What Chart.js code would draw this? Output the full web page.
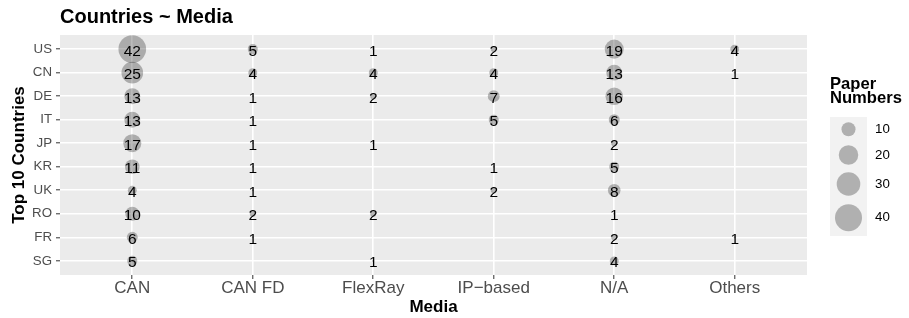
<!DOCTYPE html>
<html>
<head>
<meta charset="utf-8">
<script src="https://cdn.jsdelivr.net/npm/chart.js@4"></script>
<style>
  body { margin: 0; background: #fff; }
  #wrap { width: 909px; height: 318px; position: relative; }
</style>
</head>
<body>
<div id="wrap"><canvas id="chart"></canvas></div>
<script>
// ===== DATA =====
const media     = ['CAN', 'CAN FD', 'FlexRay', 'IP\u2212based', 'N/A', 'Others'];
const countries = ['US', 'CN', 'DE', 'IT', 'JP', 'KR', 'UK', 'RO', 'FR', 'SG'];
// one row per country, one column per medium (null = no paper)
const paperCounts = [
  [42, 5,    1,    2,    19, 4],
  [25, 4,    4,    4,    13, 1],
  [13, 1,    2,    7,    16, null],
  [13, 1,    null, 5,    6,  null],
  [17, 1,    1,    null, 2,  null],
  [11, 1,    null, 1,    5,  null],
  [4,  1,    null, 2,    8,  null],
  [10, 2,    2,    null, 1,  null],
  [6,  1,    null, null, 2,  1],
  [5,  null, 1,    null, 4,  null],
];
const legendValues = [10, 20, 30, 40];

const FONT = "'Liberation Sans', Arial, Helvetica, sans-serif";
const BUBBLE = 'rgba(0,0,0,0.27)';

// ===== bubble points =====
const points = [];
paperCounts.forEach((row, yi) => {
  row.forEach((v, xi) => {
    if (v !== null) points.push({ x: xi, y: yi, v: v });
  });
});

// size scale (area), like ggplot scale_size: diameter 2..~27.7 px
const allVals = points.map(p => p.v);
const vMin = Math.min(...allVals);
const vMax = Math.max(...allVals);
function bubbleRadius(v) {
  const t = Math.sqrt((v - vMin) / (vMax - vMin));
  return (2 + 25.7 * t) / 2;
}

// ===== PLUGINS =====
const panelBg = {
  id: 'panelBg',
  beforeDraw(chart) {
    const { ctx, chartArea: a } = chart;
    ctx.save();
    ctx.fillStyle = '#EBEBEB';
    ctx.fillRect(a.left, a.top, a.right - a.left, a.bottom - a.top);
    ctx.restore();
  },
};

const bubbleText = {
  id: 'bubbleText',
  afterDatasetsDraw(chart) {
    const { ctx } = chart;
    const meta = chart.getDatasetMeta(0);
    ctx.save();
    ctx.fillStyle = '#000';
    ctx.font = `15.5px ${FONT}`;
    ctx.textAlign = 'center';
    ctx.textBaseline = 'alphabetic';
    meta.data.forEach((el, i) => {
      const p = chart.data.datasets[0].data[i];
      ctx.fillText(String(p.v), el.x, el.y + 0.36 * 15.5 + 1);
    });
    ctx.restore();
  },
};

const extras = {
  id: 'extras',
  afterDraw(chart) {
    const { ctx } = chart;
    ctx.save();
    // plot title
    ctx.fillStyle = '#000';
    ctx.font = `bold 20px ${FONT}`;
    ctx.textAlign = 'left';
    ctx.textBaseline = 'alphabetic';
    ctx.fillText('Countries ~ Media', chart.chartArea.left, 22.7);

    // size legend
    ctx.font = `bold 16.6px ${FONT}`;
    ctx.fillText('Paper', 830, 89.3);
    ctx.fillText('Numbers', 830, 103.3);

    ctx.fillStyle = '#F2F2F2';
    ctx.fillRect(830, 117, 37, 119);

    const keyY = [129.3, 155, 184, 217.7];
    legendValues.forEach((v, i) => {
      ctx.fillStyle = BUBBLE;
      ctx.beginPath();
      ctx.arc(848.5, keyY[i], bubbleRadius(v), 0, Math.PI * 2);
      ctx.fill();
      ctx.fillStyle = '#000';
      ctx.font = `13.3px ${FONT}`;
      ctx.textBaseline = 'middle';
      ctx.fillText(String(v), 875, keyY[i]);
    });
    ctx.restore();
  },
};

// ===== CHART =====
const ctx = document.getElementById('chart').getContext('2d');

new Chart(ctx, {
  type: 'bubble',
  data: {
    datasets: [{
      data: points,
      backgroundColor: BUBBLE,
      borderWidth: 0,
      radius: c => bubbleRadius(c.raw.v),
      hoverRadius: 0,
    }],
  },
  options: {
    responsive: true,
    maintainAspectRatio: false,
    animation: false,
    events: [],
    layout: { padding: { top: 35, right: 102, left: 0, bottom: 0 } },
    plugins: {
      legend: { display: false },
      tooltip: { enabled: false },
    },
    scales: {
      x: {
        type: 'linear',
        min: -0.6,
        max: 5.6,
        afterBuildTicks: s => { s.ticks = media.map((_, i) => ({ value: i })); },
        afterFit: s => { s.height = 43; },
        ticks: {
          autoSkip: false,
          maxRotation: 0,
          padding: 0,
          color: '#4D4D4D',
          font: { family: FONT, size: 17, lineHeight: 1.1 },
          callback: v => media[v],
        },
        grid: {
          color: '#FFFFFF',
          lineWidth: 1.6,
          tickColor: '#333333',
          tickLength: 4,
          tickWidth: 1,
        },
        border: { display: false },
        title: {
          display: true,
          text: 'Media',
          color: '#000',
          font: { family: FONT, size: 17, weight: 'bold', lineHeight: 1.2 },
          padding: { top: 0, bottom: 0 },
        },
      },
      y: {
        type: 'linear',
        reverse: true,
        min: -0.6,
        max: 9.6,
        afterBuildTicks: s => { s.ticks = countries.map((_, i) => ({ value: i })); },
        afterFit: s => { s.width = 60; },
        ticks: {
          autoSkip: false,
          padding: 4,
          color: '#4D4D4D',
          font: { family: FONT, size: 13.3 },
          callback: v => countries[v],
        },
        grid: {
          color: '#FFFFFF',
          lineWidth: 1.6,
          tickColor: '#333333',
          tickLength: 4,
          tickWidth: 1,
        },
        border: { display: false },
        title: {
          display: true,
          text: 'Top 10 Countries',
          color: '#000',
          font: { family: FONT, size: 17, weight: 'bold', lineHeight: 1.2 },
          padding: { top: 9, bottom: 0 },
        },
      },
    },
  },
  plugins: [panelBg, bubbleText, extras],
});
</script>
</body>
</html>
